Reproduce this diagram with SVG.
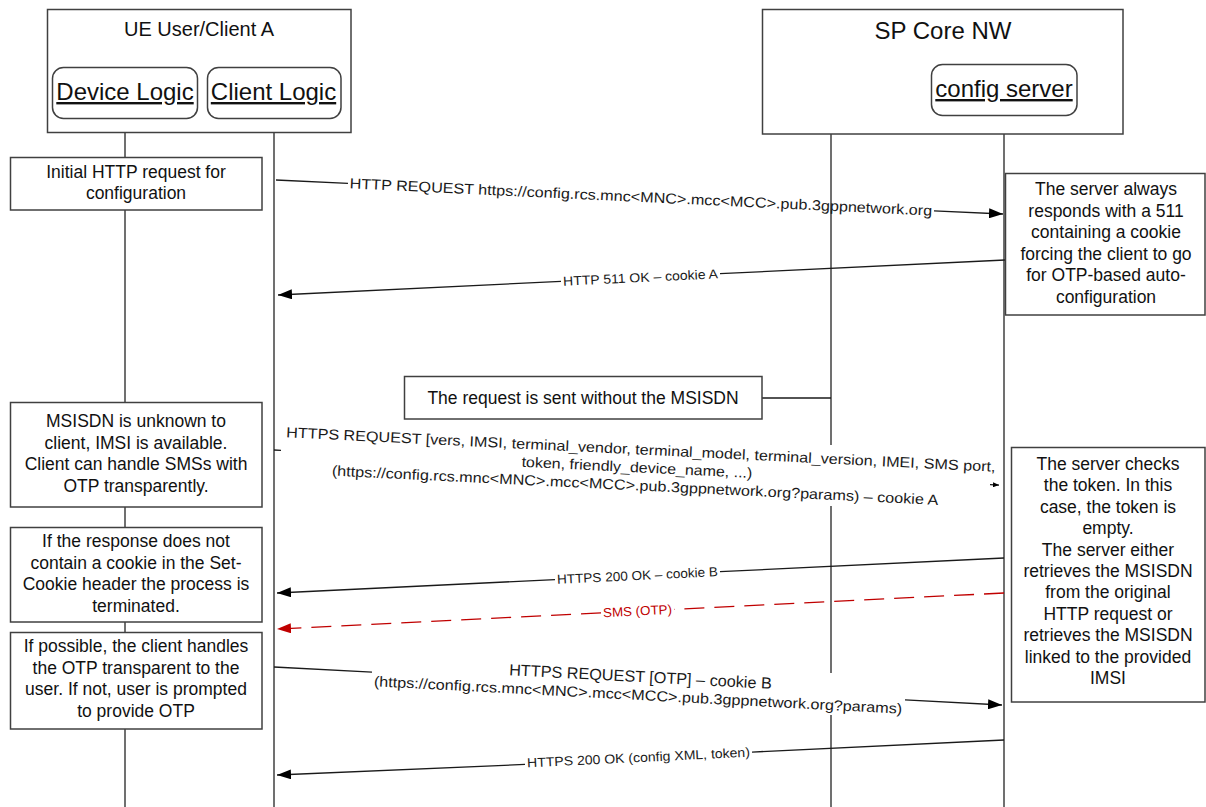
<svg xmlns="http://www.w3.org/2000/svg" width="1206" height="807" viewBox="0 0 1206 807">
<defs>
<style>
.bg{fill:#fff}
.box{fill:#fff;stroke:#404040;stroke-width:1.5}
.life{fill:none;stroke:#404040;stroke-width:1.5}
.msg{fill:none;stroke:#1a1a1a;stroke-width:1.3}
.red{fill:none;stroke:#c00000;stroke-width:1.3;stroke-dasharray:20 10}
.note{font-family:"Liberation Sans",Arial,sans-serif;font-size:17.5px;fill:#111;text-anchor:middle}
.hdr{font-family:"Liberation Sans",Arial,sans-serif;fill:#111;text-anchor:middle}
.lg{font-family:"Liberation Sans",Arial,sans-serif;font-size:24px;fill:#111;text-anchor:middle;text-decoration:underline}
.ml{font-family:"Liberation Sans",Arial,sans-serif;font-size:14.5px;fill:#1a1a1a;text-anchor:middle}
.cl{font-family:"Liberation Sans",Arial,sans-serif;font-size:13px;fill:#1a1a1a;text-anchor:middle}
</style>
<marker id="ah" viewBox="0 0 14 10" refX="14" refY="5" markerWidth="14" markerHeight="10" markerUnits="userSpaceOnUse" orient="auto"><path d="M0,0 L14,5 L0,10 z" fill="#000"/></marker>
<marker id="ahr" viewBox="0 0 14 10" refX="14" refY="5" markerWidth="14" markerHeight="10" markerUnits="userSpaceOnUse" orient="auto"><path d="M0,0 L14,5 L0,10 z" fill="#c00000"/></marker>
<marker id="ahs" viewBox="0 0 6 5" refX="6" refY="2.5" markerWidth="6" markerHeight="5" markerUnits="userSpaceOnUse" orient="auto"><path d="M0,0 L6,2.5 L0,5 z" fill="#000"/></marker>
</defs>
<rect class="bg" x="0" y="0" width="1206" height="807"/>

<g id="lifelines">
<line class="life" x1="125" y1="118" x2="125" y2="807"/>
<line class="life" x1="274" y1="118" x2="274" y2="807"/>
<line class="life" x1="831" y1="134" x2="831" y2="445"/>
<line class="life" x1="831" y1="506" x2="831" y2="673"/>
<line class="life" x1="831" y1="715" x2="831" y2="807"/>
<line class="life" x1="1004" y1="115" x2="1004" y2="807"/>
</g>

<g id="ue-client-a">
<rect class="box" x="47.5" y="9.5" width="303.5" height="123"/>
<text class="hdr" x="199" y="36" font-size="20">UE User/Client A</text>
</g>
<g id="device-logic">
<rect class="box" x="52.5" y="67.5" width="145" height="51" rx="11"/>
<text class="lg" x="125" y="100">Device Logic</text>
</g>
<g id="client-logic">
<rect class="box" x="207.5" y="67.5" width="133.5" height="51" rx="11"/>
<text class="lg" x="273.5" y="100">Client Logic</text>
</g>
<g id="sp-core-nw">
<rect class="box" x="762.5" y="9.5" width="360.5" height="124.5"/>
<text class="hdr" x="943" y="39" font-size="24">SP Core NW</text>
</g>
<g id="config-server">
<rect class="box" x="931.5" y="64.5" width="145.5" height="51" rx="11"/>
<text class="lg" x="1004" y="97">config server</text>
</g>

<g id="connectors">
<line class="msg" x1="276" y1="180" x2="348" y2="183.4"/>
<line class="msg" x1="934" y1="210.8" x2="1003" y2="214" marker-end="url(#ah)"/>
<line class="msg" x1="1005" y1="260" x2="720" y2="273.7"/>
<line class="msg" x1="561" y1="281.4" x2="278" y2="295" marker-end="url(#ah)"/>
<line class="msg" x1="274" y1="450" x2="281" y2="450.3"/>
<line class="msg" x1="990" y1="484.7" x2="999" y2="485.1" marker-end="url(#ahs)"/>
<line class="msg" x1="1004" y1="558" x2="720" y2="571.7"/>
<line class="msg" x1="555" y1="579.6" x2="277" y2="593" marker-end="url(#ah)"/>
<line class="red" x1="1004" y1="593" x2="674" y2="609.3"/>
<line class="red" x1="601" y1="612.9" x2="277" y2="629" marker-end="url(#ahr)"/>
<line class="msg" x1="274" y1="667" x2="372" y2="672.1"/>
<line class="msg" x1="905" y1="699.9" x2="1002" y2="705" marker-end="url(#ah)"/>
<line class="msg" x1="1004" y1="740" x2="752" y2="752.1"/>
<line class="msg" x1="525" y1="764.4" x2="277" y2="775" marker-end="url(#ah)"/>
<line class="msg" x1="762" y1="398" x2="831" y2="398"/>
</g>

<g id="message-labels">
<g transform="rotate(2.68 641 197)">
<text class="ml" x="641" y="202" textLength="583" lengthAdjust="spacingAndGlyphs">HTTP REQUEST https://config.rcs.mnc&lt;MNC&gt;.mcc&lt;MCC&gt;.pub.3gppnetwork.org</text>
</g>
<g transform="rotate(-2.76 640.5 277.6)">
<text class="cl" x="640.5" y="282" textLength="155" lengthAdjust="spacingAndGlyphs">HTTP 511 OK – cookie A</text>
</g>
<g transform="rotate(2.78 640 467.5)">
<text class="ml" x="640" y="454.5" textLength="710" lengthAdjust="spacingAndGlyphs">HTTPS REQUEST [vers, IMSI, terminal_vendor, terminal_model, terminal_version, IMEI, SMS port,</text>
<text class="ml" x="637" y="472.5" textLength="231" lengthAdjust="spacingAndGlyphs">token, friendly_device_name, ...)</text>
<text class="ml" x="636" y="490.5" textLength="607" lengthAdjust="spacingAndGlyphs">(https://config.rcs.mnc&lt;MNC&gt;.mcc&lt;MCC&gt;.pub.3gppnetwork.org?params) – cookie A</text>
</g>
<g transform="rotate(-2.76 637.5 575.6)">
<text class="cl" x="637.5" y="580" textLength="161" lengthAdjust="spacingAndGlyphs">HTTPS 200 OK – cookie B</text>
</g>
<g transform="rotate(-2.83 637.5 611.1)">
<text class="cl" x="637.5" y="615.5" textLength="69" lengthAdjust="spacingAndGlyphs" style="fill:#c00000">SMS (OTP)</text>
</g>
<g transform="rotate(2.99 639 686)">
<text class="ml" x="640" y="682" textLength="263" lengthAdjust="spacingAndGlyphs" style="font-size:16px">HTTPS REQUEST [OTP] – cookie B</text>
<text class="ml" x="638.5" y="700" textLength="529" lengthAdjust="spacingAndGlyphs">(https://config.rcs.mnc&lt;MNC&gt;.mcc&lt;MCC&gt;.pub.3gppnetwork.org?params)</text>
</g>
<g transform="rotate(-2.76 638.5 757.6)">
<text class="cl" x="638.5" y="762" textLength="223" lengthAdjust="spacingAndGlyphs">HTTPS 200 OK (config XML, token)</text>
</g>
</g>

<g id="note-initial">
<rect class="box" x="10.5" y="157.5" width="251.5" height="52.5"/>
<text class="note" x="136" y="178">Initial HTTP request for</text>
<text class="note" x="136" y="199">configuration</text>
</g>
<g id="note-511">
<rect class="box" x="1005.5" y="173.5" width="199.5" height="141.5"/>
<text class="note" x="1106" y="195">The server always</text>
<text class="note" x="1106" y="216.5">responds with a 511</text>
<text class="note" x="1106" y="238">containing a cookie</text>
<text class="note" x="1106" y="259.5">forcing the client to go</text>
<text class="note" x="1106" y="281">for OTP-based auto-</text>
<text class="note" x="1106" y="302.5">configuration</text>
</g>
<g id="note-no-msisdn">
<rect class="box" x="404.5" y="376.5" width="357.5" height="42.5"/>
<text class="note" x="583" y="404">The request is sent without the MSISDN</text>
</g>
<g id="note-msisdn-unknown">
<rect class="box" x="10.5" y="402.5" width="251.5" height="104.5"/>
<text class="note" x="136" y="427">MSISDN is unknown to</text>
<text class="note" x="136" y="448.5">client, IMSI is available.</text>
<text class="note" x="136" y="470">Client can handle SMSs with</text>
<text class="note" x="136" y="491.5">OTP transparently.</text>
</g>
<g id="note-no-cookie">
<rect class="box" x="10.5" y="527.5" width="251.5" height="94.5"/>
<text class="note" x="136" y="547">If the response does not</text>
<text class="note" x="136" y="568.5">contain a cookie in the Set-</text>
<text class="note" x="136" y="590">Cookie header the process is</text>
<text class="note" x="136" y="611.5">terminated.</text>
</g>
<g id="note-otp-handling">
<rect class="box" x="10.5" y="632.5" width="251.5" height="96.5"/>
<text class="note" x="136" y="652">If possible, the client handles</text>
<text class="note" x="136" y="673.5">the OTP transparent to the</text>
<text class="note" x="136" y="695">user. If not, user is prompted</text>
<text class="note" x="136" y="716.5">to provide OTP</text>
</g>
<g id="note-token-check">
<rect class="box" x="1011.5" y="447.5" width="193.5" height="254.5"/>
<text class="note" x="1108" y="470">The server checks</text>
<text class="note" x="1108" y="491.4">the token. In this</text>
<text class="note" x="1108" y="512.8">case, the token is</text>
<text class="note" x="1108" y="534.2">empty.</text>
<text class="note" x="1108" y="555.6">The server either</text>
<text class="note" x="1108" y="577">retrieves the MSISDN</text>
<text class="note" x="1108" y="598.4">from the original</text>
<text class="note" x="1108" y="619.8">HTTP request or</text>
<text class="note" x="1108" y="641.2">retrieves the MSISDN</text>
<text class="note" x="1108" y="662.6">linked to the provided</text>
<text class="note" x="1108" y="684">IMSI</text>
</g>
</svg>
